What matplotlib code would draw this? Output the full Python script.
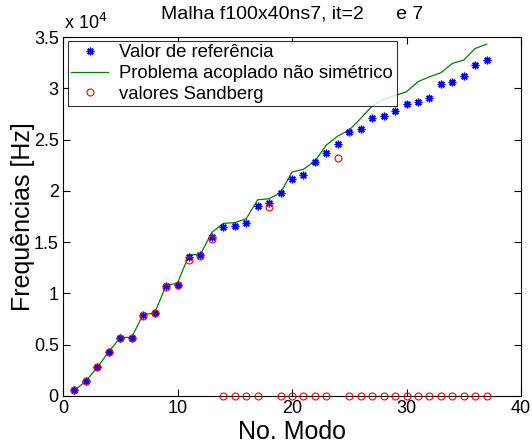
import matplotlib
matplotlib.use("Agg")
import matplotlib.pyplot as plt
from matplotlib.ticker import FuncFormatter

plt.rcParams['font.family'] = ['Liberation Sans', 'DejaVu Sans']

modos = list(range(1, 38))

# Valor de referencia (estrelas azuis)
referencia = [550, 1460, 2800, 4320, 5680, 5680, 7930, 8060, 10720, 10850,
              13580, 13710, 15530, 16500, 16570, 16890, 18550, 18780, 19820, 21120,
              21530, 22840, 23720, 24560, 25700, 26050, 27130, 27260, 27810, 28430,
              28690, 29080, 30410, 30640, 31190, 32290, 32750]

# Problema acoplado nao simetrico (linha verde)
acoplado = [550, 1460, 2800, 4320, 5700, 5720, 7950, 8080, 10780, 11000,
            13750, 13800, 15950, 16830, 16900, 17280, 19130, 19230, 19820, 21830,
            22100, 22900, 24460, 25340, 25930, 27060, 28270, 28910, 29300, 29660,
            30640, 31120, 31510, 32420, 32750, 33880, 34300]

# valores Sandberg (circulos vermelhos)
sandberg = [550, 1460, 2800, 4320, 5680, 5680, 7800, 8050, 10590, 10800,
            13250, 13650, 15270, 0, 0, 0, 0, 18450, 0, 0,
            0, 0, 0, 23230, 0, 0, 0, 0, 0, 0,
            0, 0, 0, 0, 0, 0, 0]

fig = plt.figure(figsize=(5.32, 4.46), dpi=100)
ax = fig.add_axes([63/532, 50/446, 458/532, 359/446])

ax.plot(modos, referencia, linestyle='none', marker=(8, 2, 0), markersize=5.5,
        markeredgecolor='blue', markeredgewidth=1.0, color='blue',
        label='Valor de referência', zorder=3)
ax.plot(modos, acoplado, color='#008000', linewidth=0.9,
        label='Problema acoplado não simétrico', zorder=2)
ax.plot(modos, sandberg, linestyle='none', marker='o', markersize=5,
        markerfacecolor='none', markeredgecolor='red', markeredgewidth=0.8,
        label='valores Sandberg', zorder=4, clip_on=False)

ax.set_xlim(0, 40)
ax.set_ylim(0, 35000)
ax.set_xticks([0, 10, 20, 30, 40])
ax.set_yticks([i * 5000 for i in range(8)])
ax.yaxis.set_major_formatter(FuncFormatter(lambda v, p: '%g' % (v / 1e4)))
ax.tick_params(direction='in', top=True, right=True, length=5, width=0.8,
               labelsize=13, pad=3)
for s in ax.spines.values():
    s.set_linewidth(0.8)

ax.text(0.002, 1.012, r'x 10$^4$', transform=ax.transAxes, fontsize=13,
        ha='left', va='bottom')
ax.set_title('Malha f100x40ns7, it=2      e 7', fontsize=14, pad=13)
ax.set_xlabel('No. Modo', fontsize=18, labelpad=2)
ax.set_ylabel('Frequências [Hz]', fontsize=18)
ax.yaxis.set_label_coords(-0.062, 0.5)

leg = ax.legend(loc='upper left', bbox_to_anchor=(0.01, 0.99), fontsize=13.3,
                frameon=True, fancybox=False, edgecolor='black',
                handlelength=2.0, handletextpad=0.6, borderpad=0.2,
                labelspacing=0.2, borderaxespad=0)
leg.get_frame().set_linewidth(0.8)

fig.savefig('out.png', dpi=100)
